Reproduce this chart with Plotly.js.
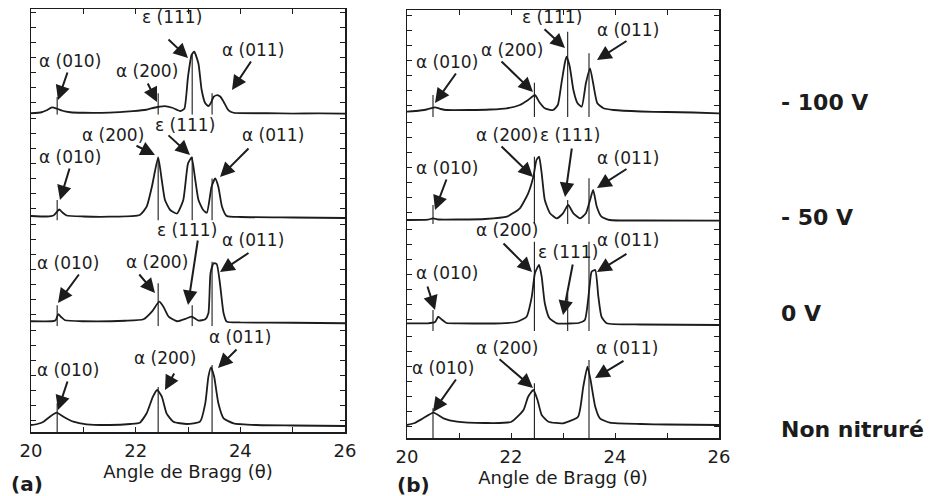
<!DOCTYPE html>
<html><head><meta charset="utf-8">
<script src="https://cdn.plot.ly/plotly-3.0.1.min.js"></script>
<style>html,body{margin:0;padding:0;background:#fff}#chart{width:930px;height:496px}</style>
</head><body><div id="chart"></div>
<script>
// ---------------- DATA ----------------
const thetaTicks = [20,21,22,23,24,25,26];
const thetaTickText = ['20','','22','','24','','26'];
const samples = ['- 100 V','- 50 V','0 V','Non nitruré'];
const xTitle = 'Angle de Bragg (θ)';
const panelNames = ['(a)','(b)'];

// reference peak positions (vertical marker lines), per panel
const aPeakPos = [20.5, 22.43, 23.08, 23.46];
const bPeakPos = [20.5, 22.45, 23.09, 23.5];

// panel (a) intensity profiles (arbitrary units)
const aM100X = [20.0,20.2,20.3,20.4,20.5,20.6,20.75,21.0,21.5,21.95,22.2,22.35,22.45,22.55,22.7,22.85,22.93,23.0,23.07,23.12,23.2,23.26,23.33,23.39,23.44,23.49,23.56,23.62,23.68,23.77,23.87,24.5,25.0,25.5,26.0];
const aM100Y = [1.5,2.5,4.5,7.4,6,4,2.5,2,2.2,3.7,5,7,8,8.7,7,3.7,6,38,60,63,51,25,11.4,8.7,12,18,19.7,18,13,4.7,2,1.5,1.2,1.3,1];
const aM50X = [20.0,20.3,20.43,20.54,20.6,20.68,21.0,21.5,22.08,22.21,22.31,22.43,22.5,22.56,22.66,22.79,22.91,23.0,23.07,23.13,23.2,23.29,23.36,23.45,23.52,23.58,23.65,23.74,24.0,25.0,26.0];
const aM50Y = [4.5,4,5,11,8,5,4,3.8,5.5,13.8,33.8,63,40,20.5,10.5,7,20.5,57,63,44,20.5,10.5,7.8,33.8,42,33.8,13.8,4.5,3.5,3,2.5];
const a0X = [20.0,20.4,20.47,20.52,20.58,20.65,21.0,21.8,22.15,22.31,22.45,22.53,22.63,22.79,22.98,23.07,23.2,23.33,23.39,23.43,23.49,23.55,23.61,23.68,23.74,24.0,25.0,26.0];
const a0Y = [5,5,6,12,9,6,5,5.5,7,14.6,24.6,19.6,9.6,5,8,9.6,5.6,7,13,53,63,62,43,13,4.6,3.8,3.5,3];
const aNNX = [20.0,20.12,20.24,20.36,20.49,20.62,20.81,21.06,21.5,21.9,22.08,22.21,22.33,22.41,22.5,22.59,22.72,22.98,23.23,23.33,23.39,23.44,23.5,23.58,23.68,23.87,24.3,25.0,26.0];
const aNNY = [7,8,10.3,15.3,19.3,15.3,10.3,7.7,7,8,9.3,18.7,35.3,42,35.3,18.7,10.3,8,10.3,28.7,55.3,64.7,55.3,28.7,13.7,8.7,7,6.5,6];

// panel (b) intensity profiles (arbitrary units)
const bM100X = [20.0,20.25,20.38,20.54,20.65,20.76,21.2,21.6,21.92,22.17,22.33,22.46,22.54,22.65,22.81,22.9,22.97,23.04,23.07,23.13,23.2,23.28,23.36,23.44,23.52,23.58,23.66,23.78,23.97,24.5,25.0,25.5,26.0];
const bM100Y = [5.3,6.5,7.5,9.7,8,7,7,7.5,8.7,12,17,22,15.3,8.7,7,12,33.7,55.3,60.3,50.3,27,13.7,10.3,33.7,48.7,33.7,13.7,8.7,7,5.5,5,4.5,3.7];
const bM50X = [20.0,20.4,20.5,20.6,21.0,21.5,21.92,22.17,22.33,22.43,22.49,22.54,22.59,22.65,22.75,22.88,23.0,23.1,23.2,23.33,23.44,23.52,23.58,23.65,23.74,23.9,24.5,26.0];
const bM50Y = [4,4.3,5.7,4.5,4.5,5,7.3,15.7,30.7,47.3,64,67.3,50.7,24,10.7,5.7,10.7,19,10.7,5.7,10.7,24,34,17.3,7.3,4,3.5,3.3];
const b0X = [20.0,20.4,20.54,20.6,20.68,20.76,21.0,21.8,22.1,22.3,22.4,22.46,22.54,22.59,22.65,22.74,22.88,23.1,23.3,23.42,23.51,23.55,23.62,23.68,23.74,23.84,24.5,26.0];
const b0Y = [7.7,7.7,9,14.3,11,8,7.7,7.7,9,14.3,34.3,57.7,66,54.3,27.7,12.7,7.7,7.5,8,11,44.3,59.3,61,34.3,14.3,7.7,6.5,6];
const bNNX = [20.0,20.15,20.31,20.51,20.7,20.96,21.5,22.0,22.24,22.33,22.43,22.51,22.59,22.72,23.0,23.29,23.39,23.47,23.53,23.62,23.71,23.9,24.5,25.0,26.0];
const bNNY = [13,15,19.7,25.3,19.7,16.3,15,16,28,41.3,48,38,23,16.3,14.7,21.3,51.3,71.3,58,31.3,19.7,15.3,14,13.5,13];

// heights of the vertical peak-marker lines, per curve (null = no line)
const aM100Mark = [17.7, 21.4, 60, 21.4];
const aM50Mark  = [20.5, 62, 63.8, 42];
const a0Mark    = [21, 43, 21, 64.6];
const aNNMark   = [28.7, 45, null, 67];
const bM100Mark = [22, 34.3, 85.3, 63.7];
const bM50Mark  = [19, 67.3, 24, 45.7];
const b0Mark    = [21, 89.3, 37.7, 89.3];
const bNNMark   = [29.7, 54.7, null, 78];

// ---------------- LAYOUT HELPERS ----------------
const W = 930, H = 496;
const INK = '#1c1c1c';
const FONT = 'DejaVu Sans';
const fx = p => p / W;
const fy = p => 1 - p / H;

const panels = [
  {x:[31,345], bounds:[9,114.75,220.5,326.25,432], peaks:aPeakPos,
   curves:[[aM100X,aM100Y,aM100Mark],[aM50X,aM50Y,aM50Mark],[a0X,a0Y,a0Mark],[aNNX,aNNY,aNNMark]]},
  {x:[407,719], bounds:[10,117,224,331,438], peaks:bPeakPos,
   curves:[[bM100X,bM100Y,bM100Mark],[bM50X,bM50Y,bM50Mark],[b0X,b0Y,b0Mark],[bNNX,bNNY,bNNMark]]}
];

const traces = [];
const layout = {
  width: W, height: H,
  margin: {l:0, r:0, t:0, b:0},
  paper_bgcolor: '#fff', plot_bgcolor: 'rgba(0,0,0,0)',
  showlegend: false,
  font: {family: FONT, color: INK},
  annotations: [], shapes: []
};

panels.forEach((pn, pi) => {
  pn.curves.forEach((c, ci) => {
    const idx = pi * 4 + ci + 1;
    const xa = 'x' + idx, ya = 'y' + idx;
    const top = pn.bounds[ci], bot = pn.bounds[ci + 1];
    const h = bot - top;
    traces.push({
      type: 'scatter', mode: 'lines', x: c[0], y: c[1],
      xaxis: xa, yaxis: ya, hoverinfo: 'skip',
      line: {color: INK, width: 1.8, shape: 'spline', smoothing: 0.5},
      name: samples[ci]
    });
    const mx = [], my = [];
    pn.peaks.forEach((p, k) => {
      if (c[2][k] == null) return;
      mx.push(p, p, null); my.push(0, c[2][k], null);
    });
    traces.push({
      type: 'scatter', mode: 'lines', x: mx, y: my,
      xaxis: xa, yaxis: ya, hoverinfo: 'skip',
      line: {color: INK, width: 1.1}
    });
    const xaxis = {
      domain: [fx(pn.x[0]), fx(pn.x[1])], range: [20, 26], anchor: ya,
      showgrid: false, zeroline: false, fixedrange: true
    };
    if (ci === 0) {
      Object.assign(xaxis, {side: 'top', showline: true, linecolor: INK, linewidth: 1.5,
        ticks: 'inside', ticklen: 5, tickcolor: INK, tickvals: thetaTicks, showticklabels: false});
    } else if (ci === 3) {
      Object.assign(xaxis, {side: 'bottom', showline: true, linecolor: INK, linewidth: 1.5,
        ticks: 'inside', ticklen: 5, tickcolor: INK, tickvals: thetaTicks, ticktext: thetaTickText,
        tickfont: {family: FONT, size: 18, color: INK}, ticklabelstandoff: 2,
        title: {text: xTitle, font: {family: FONT, size: 18, color: INK}, standoff: 4}});
    } else {
      xaxis.visible = false;
    }
    layout['xaxis' + idx] = xaxis;
    layout['yaxis' + idx] = {
      domain: [fy(bot), fy(top)], range: [0, h], anchor: xa,
      showline: true, mirror: 'ticks', linecolor: INK, linewidth: 1.5,
      ticks: 'inside', ticklen: 5, tickcolor: INK, tick0: 12, dtick: 15,
      showticklabels: false, showgrid: false, zeroline: false, fixedrange: true
    };
  });
});

// ---------- peak labels: [text, textX, textY, tailX, tailY, tipX, tipY] (px) ----------
const labelLayout = [
  // panel a, -100 V
  ['α (010)',70,61,68,71,58,100],['α (200)',147,71,147,82,157,102],
  ['ε (111)',172,17,167,38,188,58],['α (011)',253,50,252,60,232,90],
  // panel a, -50 V
  ['ε (111)',185,125,167,134,190,155],['α (200)',113,135,135,145,155,155],
  ['α (010)',70,157,70,167,60,200],['α (011)',273,135,250,147,220,177],
  // panel a, 0 V
  ['ε (111)',187,230,198,239,188,305],['α (011)',253,240,250,252,220,272],
  ['α (010)',68,263,80,273,58,303],['α (200)',157,262,138,273,155,293],
  // panel a, non nitruré
  ['α (011)',240,337,238,348,218,368],['α (200)',165,358,175,372,165,390],
  ['α (010)',68,370,68,380,58,410],
  // panel b, -100 V
  ['ε (111)',552,17,543,28,565,48],['α (011)',628,30,628,40,597,60],
  ['α (200)',512,50,500,60,533,92],['α (010)',447,62,457,72,435,103],
  // panel b, -50 V
  ['α (200)',507,135,500,145,533,177],['ε (111)',570,135,572,147,565,197],
  ['α (011)',628,158,628,168,597,188],['α (010)',447,168,447,178,435,210],
  // panel b, 0 V
  ['α (200)',507,230,502,242,532,272],['ε (111)',568,252,573,263,563,315],
  ['α (011)',628,240,628,253,597,272],['α (010)',447,273,427,285,435,310],
  // panel b, non nitruré
  ['α (200)',507,348,498,358,533,388],['α (011)',627,348,625,360,595,378],
  ['α (010)',443,368,457,378,433,412]
];
labelLayout.forEach(L => {
  layout.annotations.push({
    xref: 'paper', yref: 'paper', x: fx(L[1]), y: fy(L[2]), text: L[0],
    showarrow: false, xanchor: 'center', yanchor: 'middle',
    font: {family: FONT, size: 17, color: INK}
  });
  layout.annotations.push({
    xref: 'paper', yref: 'paper', x: fx(L[5]), y: fy(L[6]), text: '',
    showarrow: true, axref: 'pixel', ayref: 'pixel', ax: L[3] - L[5], ay: L[4] - L[6],
    arrowhead: 2, arrowsize: 1.45, arrowwidth: 2, arrowcolor: INK, standoff: 0,
    font: {size: 1}
  });
});

// sample names on the right
const sampleY = [102, 217, 313, 429];
samples.forEach((s, i) => {
  layout.annotations.push({
    xref: 'paper', yref: 'paper', x: fx(779), y: fy(sampleY[i]), text: '<b>' + s + '</b>',
    showarrow: false, xanchor: 'left', yanchor: 'middle',
    font: {family: FONT, size: 22, color: INK}
  });
});
// panel letters
[[27, 484], [413, 485]].forEach((p, i) => {
  layout.annotations.push({
    xref: 'paper', yref: 'paper', x: fx(p[0]), y: fy(p[1]), text: '<b>' + panelNames[i] + '</b>',
    showarrow: false, xanchor: 'center', yanchor: 'middle',
    font: {family: FONT, size: 20, color: INK}
  });
});

Plotly.newPlot('chart', traces, layout, {staticPlot: true, displayModeBar: false});
</script>
</body></html>
